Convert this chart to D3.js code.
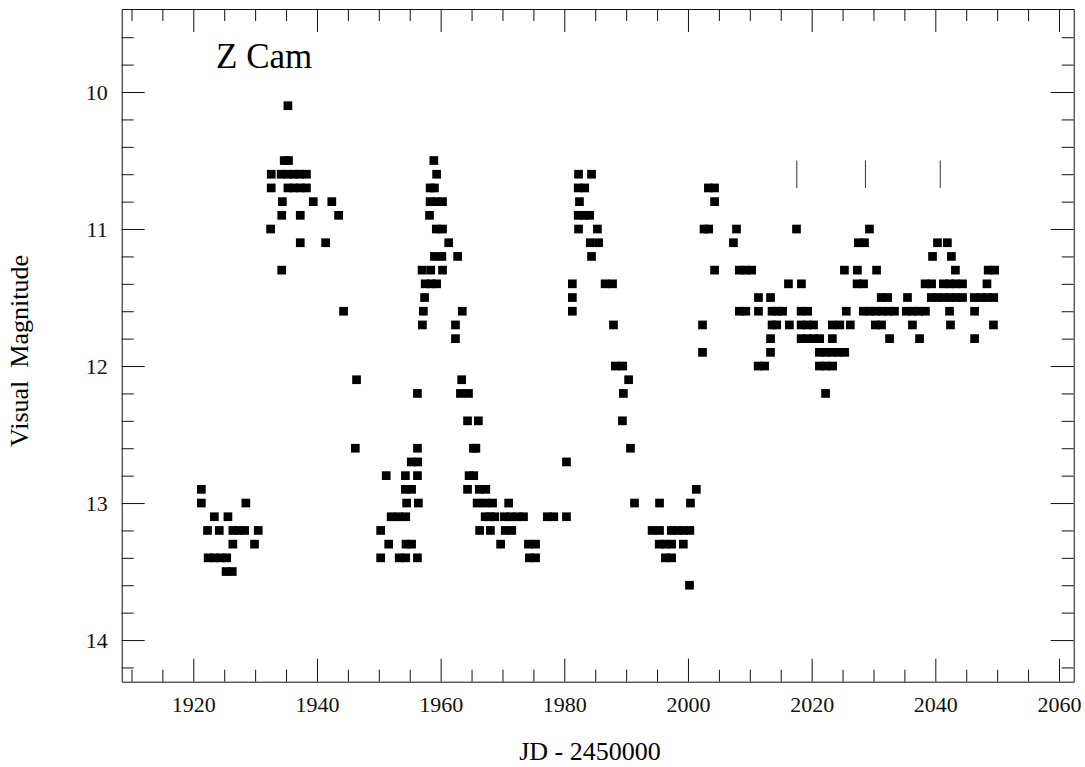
<!DOCTYPE html>
<html>
<head>
<meta charset="utf-8">
<script src="https://cdn.jsdelivr.net/npm/d3@7"></script>
<style>
  html, body { margin: 0; padding: 0; background: #fff; }
  svg { display: block; }
  text { font-family: "Liberation Serif", "Times New Roman", Times, serif; }
</style>
</head>
<body>
<svg id="chart" width="1085" height="767"></svg>
<script>
// ---------------- data ----------------
const starName = "Z Cam";
const xTitle = "JD - 2450000";
const yTitle = "Visual  Magnitude";

// [JD - 2450000, visual magnitude]
const observations = [
  // 1920 - 1931
  [1921.3,12.9],[1921.3,13.0],[1928.5,13.0],
  [1923.4,13.1],[1925.6,13.1],
  [1922.3,13.2],[1924.2,13.2],[1926.4,13.2],[1927.3,13.2],[1928.3,13.2],[1930.5,13.2],
  [1926.4,13.3],[1929.9,13.3],
  [1922.4,13.4],[1923.4,13.4],[1924.4,13.4],[1925.4,13.4],
  [1925.3,13.5],[1926.3,13.5],
  // 1932 - 1947
  [1935.3,10.1],
  [1934.7,10.5],[1935.4,10.5],
  [1932.6,10.6],[1934.2,10.6],[1935.2,10.6],[1936.2,10.6],[1937.2,10.6],[1938.3,10.6],
  [1932.6,10.7],[1935.3,10.7],[1936.3,10.7],[1937.3,10.7],[1938.3,10.7],
  [1934.4,10.8],[1939.4,10.8],[1942.4,10.8],
  [1934.3,10.9],[1937.3,10.9],[1943.5,10.9],
  [1932.5,11.0],
  [1937.3,11.1],[1941.4,11.1],
  [1934.3,11.3],
  [1944.3,11.6],
  [1946.4,12.1],
  [1946.2,12.6],
  // 1950 - 1957 faint
  [1956.25,12.2],
  [1956.25,12.6],
  [1955.25,12.7],[1956.3,12.7],
  [1951.2,12.8],[1954.3,12.8],[1956.25,12.8],
  [1954.3,12.9],[1955.3,12.9],
  [1954.5,13.0],[1956.4,13.0],
  [1952.0,13.1],[1953.2,13.1],[1954.35,13.1],
  [1950.3,13.2],
  [1951.6,13.3],[1954.4,13.3],[1955.3,13.3],
  [1950.3,13.4],[1953.3,13.4],[1954.35,13.4],[1956.25,13.4],
  // 1957 - 1964 outburst
  [1958.9,10.5],
  [1959.35,10.6],
  [1958.3,10.7],[1959.0,10.7],
  [1958.3,10.8],[1959.35,10.8],[1960.3,10.8],
  [1958.2,10.9],
  [1959.3,11.0],[1960.3,11.0],
  [1961.3,11.1],
  [1959.0,11.2],[1960.2,11.2],[1962.75,11.2],
  [1957.0,11.3],[1958.4,11.3],[1960.3,11.3],
  [1957.5,11.4],[1958.45,11.4],[1959.35,11.4],
  [1957.4,11.5],
  [1957.2,11.6],[1963.5,11.6],
  [1957.05,11.7],[1962.4,11.7],
  [1962.4,11.8],
  [1963.4,12.1],
  [1963.2,12.2],[1964.5,12.2],
  // 1964 - 1981 faint
  [1964.35,12.4],[1966.1,12.4],
  [1965.3,12.6],[1965.7,12.6],
  [1964.6,12.8],[1965.35,12.8],
  [1964.35,12.9],[1966.25,12.9],[1967.3,12.9],
  [1965.9,13.0],[1967.2,13.0],[1968.4,13.0],[1971.0,13.0],
  [1967.2,13.1],[1968.0,13.1],[1968.75,13.1],[1970.3,13.1],[1971.35,13.1],[1972.4,13.1],[1973.4,13.1],
  [1977.25,13.1],[1978.3,13.1],[1980.35,13.1],
  [1966.3,13.2],[1968.05,13.2],[1970.45,13.2],[1971.5,13.2],
  [1969.7,13.3],[1974.2,13.3],[1975.35,13.3],
  [1974.35,13.4],[1975.35,13.4],
  [1980.35,12.7],
  // 1981 - 1992 outburst
  [1982.3,10.6],[1984.4,10.6],
  [1982.25,10.7],[1983.3,10.7],
  [1982.45,10.8],
  [1982.25,10.9],[1983.2,10.9],[1984.1,10.9],
  [1982.3,11.0],[1985.35,11.0],
  [1984.2,11.1],[1985.55,11.1],
  [1984.4,11.2],
  [1981.3,11.4],[1986.6,11.4],[1987.8,11.4],
  [1981.3,11.5],
  [1981.3,11.6],
  [1987.95,11.7],
  [1988.25,12.0],[1989.45,12.0],
  [1990.4,12.1],
  [1989.55,12.2],
  [1989.4,12.4],
  [1990.7,12.6],
  [1991.35,13.0],
  // 1994 - 2001 faint
  [1995.4,13.0],[2000.4,13.0],
  [2001.35,12.9],
  [1994.2,13.2],[1995.4,13.2],[1997.3,13.2],[1998.3,13.2],[1999.3,13.2],[2000.3,13.2],
  [1995.35,13.3],[1996.35,13.3],[1997.35,13.3],[1999.25,13.3],
  [1996.35,13.4],[1997.35,13.4],
  [2000.25,13.6],
  // 2002 - 2005 outburst
  [2003.3,10.7],[2004.3,10.7],
  [2004.3,10.8],
  [2002.6,11.0],[2003.35,11.0],
  [2004.3,11.3],
  [2002.35,11.7],
  [2002.35,11.9],
  // 2007 - 2027 standstill
  [2007.85,11.0],[2017.55,11.0],
  [2007.35,11.1],
  [2008.3,11.3],[2009.3,11.3],[2010.3,11.3],[2025.3,11.3],
  [2016.25,11.4],[2018.35,11.4],
  [2011.4,11.5],[2013.35,11.5],
  [2008.3,11.6],[2009.35,11.6],[2011.4,11.6],[2013.6,11.6],[2014.45,11.6],[2015.3,11.6],
  [2018.3,11.6],[2019.35,11.6],[2025.6,11.6],
  [2013.6,11.7],[2014.35,11.7],[2016.4,11.7],[2018.3,11.7],[2019.3,11.7],[2020.3,11.7],
  [2023.35,11.7],[2024.55,11.7],[2026.25,11.7],
  [2013.35,11.8],[2018.3,11.8],[2019.3,11.8],[2020.3,11.8],[2021.3,11.8],[2023.35,11.8],
  [2013.35,11.9],[2021.25,11.9],[2022.25,11.9],[2023.3,11.9],[2024.3,11.9],[2025.35,11.9],
  [2011.35,12.0],[2012.4,12.0],[2021.25,12.0],[2022.3,12.0],[2023.4,12.0],
  [2022.25,12.2],
  // 2027 - 2050 standstill
  [2029.35,11.0],
  [2027.55,11.1],[2028.55,11.1],[2040.35,11.1],[2041.95,11.1],
  [2039.55,11.2],[2042.6,11.2],
  [2027.4,11.3],[2030.5,11.3],[2043.25,11.3],[2048.55,11.3],[2049.6,11.3],
  [2027.35,11.4],[2028.4,11.4],[2038.35,11.4],[2039.4,11.4],[2041.3,11.4],[2042.35,11.4],
  [2043.35,11.4],[2044.4,11.4],[2048.35,11.4],
  [2031.25,11.5],[2032.3,11.5],[2035.5,11.5],[2039.35,11.5],[2040.35,11.5],[2041.35,11.5],
  [2042.4,11.5],[2043.4,11.5],[2044.4,11.5],[2046.3,11.5],[2047.35,11.5],[2048.4,11.5],[2049.45,11.5],
  [2028.35,11.6],[2029.35,11.6],[2030.35,11.6],[2031.4,11.6],[2032.4,11.6],[2033.4,11.6],
  [2035.3,11.6],[2036.3,11.6],[2037.3,11.6],[2038.4,11.6],[2042.3,11.6],[2046.35,11.6],
  [2030.3,11.7],[2031.3,11.7],[2036.3,11.7],[2042.45,11.7],[2049.4,11.7],
  [2032.6,11.8],[2037.45,11.8],[2046.35,11.8]
];

// short vertical marks above the standstill
const markJD = [2017.6, 2028.7, 2040.8];
const markTop = 10.5, markBottom = 10.7;

const xMajorTicks = [1920, 1940, 1960, 1980, 2000, 2020, 2040, 2060];
const xMinorTicks = [1910, 1915, 1925, 1930, 1935, 1945, 1950, 1955, 1965, 1970, 1975,
                     1985, 1990, 1995, 2005, 2010, 2015, 2025, 2030, 2035, 2045, 2050, 2055];
const yMajorTicks = [10, 11, 12, 13, 14];
const yMinorTicks = [9.6, 9.8, 10.2, 10.4, 10.6, 10.8, 11.2, 11.4, 11.6, 11.8,
                     12.2, 12.4, 12.6, 12.8, 13.2, 13.4, 13.6, 13.8, 14.2];

// ---------------- layout ----------------
const L = 121.7, R = 1073.7, T = 9, B = 681.7;
const font = '"Liberation Serif", "Times New Roman", Times, serif';

const svg = d3.select("#chart");
const x = d3.scaleLinear().domain([1908.42, 2062.38]).range([L, R]);
const y = d3.scaleLinear().domain([9.394, 14.304]).range([T, B]);

const axisColor = "#111";

function styleAxis(g, showDomain) {
  g.attr("color", axisColor).attr("font-family", font).attr("font-size", 22);
  g.selectAll(".tick line").attr("stroke-width", 1);
  if (!showDomain) g.select(".domain").remove();
  else g.select(".domain").attr("stroke-width", 1);
}

// bottom
svg.append("g").attr("transform", `translate(0,${B})`)
  .call(d3.axisBottom(x).tickValues(xMajorTicks).tickSize(-23).tickSizeOuter(0)
        .tickPadding(15).tickFormat(d3.format("d")))
  .call(g => styleAxis(g, true));
svg.append("g").attr("transform", `translate(0,${B})`)
  .call(d3.axisBottom(x).tickValues(xMinorTicks).tickSize(-12).tickSizeOuter(0).tickFormat(""))
  .call(g => styleAxis(g, false));
// top
svg.append("g").attr("transform", `translate(0,${T})`)
  .call(d3.axisTop(x).tickValues(xMajorTicks).tickSize(-23).tickSizeOuter(0).tickFormat(""))
  .call(g => styleAxis(g, true));
svg.append("g").attr("transform", `translate(0,${T})`)
  .call(d3.axisTop(x).tickValues(xMinorTicks).tickSize(-12).tickSizeOuter(0).tickFormat(""))
  .call(g => styleAxis(g, false));
// left
svg.append("g").attr("transform", `translate(${L},0)`)
  .call(d3.axisLeft(y).tickValues(yMajorTicks).tickSize(-23).tickSizeOuter(0)
        .tickPadding(14).tickFormat(d3.format("d")))
  .call(g => styleAxis(g, true));
svg.append("g").attr("transform", `translate(${L},0)`)
  .call(d3.axisLeft(y).tickValues(yMinorTicks).tickSize(-12).tickSizeOuter(0).tickFormat(""))
  .call(g => styleAxis(g, false));
// right
svg.append("g").attr("transform", `translate(${R},0)`)
  .call(d3.axisRight(y).tickValues(yMajorTicks).tickSize(-23).tickSizeOuter(0).tickFormat(""))
  .call(g => styleAxis(g, true));
svg.append("g").attr("transform", `translate(${R},0)`)
  .call(d3.axisRight(y).tickValues(yMinorTicks).tickSize(-12).tickSizeOuter(0).tickFormat(""))
  .call(g => styleAxis(g, false));

// data markers
const ms = 8.7;
svg.append("g").selectAll("rect").data(observations).join("rect")
  .attr("x", d => x(d[0]) - ms / 2)
  .attr("y", d => y(d[1]) - ms / 2)
  .attr("width", ms).attr("height", ms)
  .attr("fill", "#000");

// vertical marks
svg.append("g").selectAll("line").data(markJD).join("line")
  .attr("x1", d => x(d)).attr("x2", d => x(d))
  .attr("y1", y(markTop)).attr("y2", y(markBottom))
  .attr("stroke", "#333").attr("stroke-width", 1);

// labels
svg.append("text")
  .attr("x", 216).attr("y", 68)
  .attr("font-family", font).attr("font-size", 35).attr("fill", "#000")
  .text(starName);

svg.append("text")
  .attr("x", 590).attr("y", 760).attr("text-anchor", "middle")
  .attr("font-family", font).attr("font-size", 26).attr("fill", "#000")
  .text(xTitle);

svg.append("text")
  .attr("transform", "translate(28,351) rotate(-90)")
  .attr("text-anchor", "middle")
  .attr("font-family", font).attr("font-size", 26).attr("fill", "#000")
  .style("white-space", "pre")
  .text(yTitle);
</script>
</body>
</html>
